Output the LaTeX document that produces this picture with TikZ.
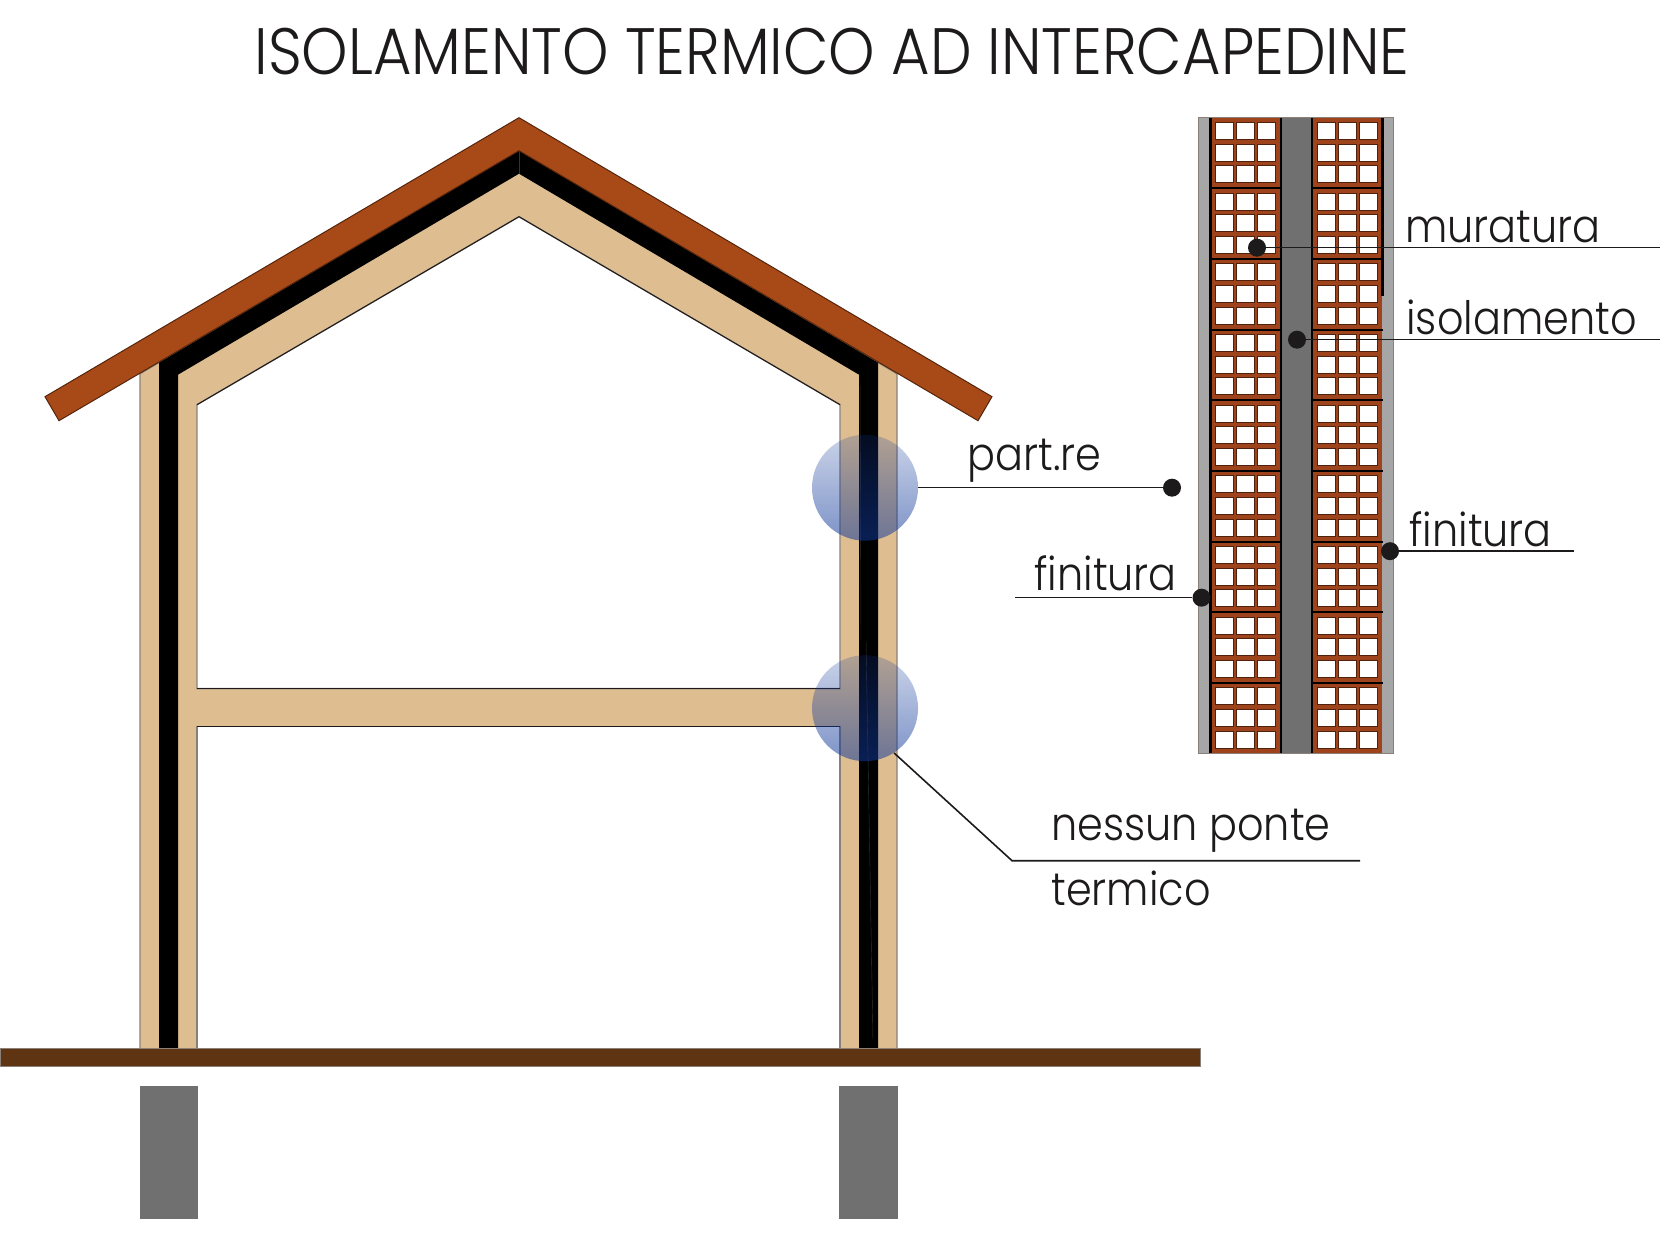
\documentclass[tikz,border=0pt]{standalone}
\usepackage{fontspec}
\setmainfont{Poppins}[UprightFont=* Light,FakeStretch=0.9]
\usetikzlibrary{calc,positioning,fadings}
\definecolor{roofred}{HTML}{A84A18}
\definecolor{brickred}{HTML}{9E431B}
\definecolor{beige}{HTML}{DEBE91}
\definecolor{earth}{HTML}{5E3412}
\definecolor{concrete}{HTML}{707070}
\definecolor{plaster}{HTML}{A6A6A6}
\definecolor{edge}{HTML}{8A8078}
\definecolor{ink}{HTML}{1C1A1A}
\definecolor{lensblue}{HTML}{123A9A}
\tikzfading[name=lensfade, top color=transparent!78, bottom color=transparent!45]
\tikzset{
    caption/.style = {anchor=base west, inner sep=0pt, text=ink, font=\fontsize{23pt}{26pt}\selectfont},
    lens/.style = {circle, minimum size=53pt, inner sep=0pt, fill=lensblue, path fading=lensfade},
    blob/.style = {circle, fill=ink, minimum size=9pt, inner sep=0pt},
    leader/.style = {draw=ink, line width=0.8pt},
    hole/.style = {fill=white, draw=black!50!brickred, line width=0.2pt},
    streak/.style = {draw=black!80!white, line width=0.2pt},
}

\begin{document}
\begin{tikzpicture}[x=0.5pt, y=-0.5pt]
    \useasboundingbox (0,-0.7) rectangle (1660,1233.3);

    \node [anchor=base, inner sep=0pt, text=ink, font=\fontsize{32.8pt}{36pt}\selectfont] (title) at (832,74) {ISOLAMENTO TERMICO AD INTERCAPEDINE};

    % house
    \draw [fill=beige, draw=edge, line width=0.7pt] (140,1048) -- (140,373) -- (519,150) -- (897,373) -- (897,1048) -- cycle;
    \draw [fill=white, draw=edge, line width=0.7pt] (197,688) -- (197,404) -- (519,216) -- (840,404) -- (840,688) -- cycle;
    \draw [fill=white, draw=edge, line width=0.7pt] (197,1048) -- (197,726) -- (840,726) -- (840,1048);
    \draw [ink, line width=0.5pt] (197,404) -- (519,216) -- (840,404);
    \draw [ink, line width=0.6pt] (197,688) -- (840,688);
    \draw [ink, line width=0.6pt] (197,726) -- (840,726);
    \fill [black] (159,1048) -- (159,362) -- (519,150) -- (878,362) -- (878,1048) -- (859,1048) -- (859,374) -- (519,173) -- (178,374) -- (178,1048) -- cycle;
    \draw [streak] (519,150) -- (519,173);
    \draw [streak] (860,374) -- (861,640);
    \draw [streak] (866,640) -- (873,1040);
    \draw [fill=roofred, draw=black!50!roofred, line width=0.5pt] (519,117) -- (992,396) -- (978,420) -- (519,150) -- (59,420) -- (45,396) -- cycle;
    \draw [fill=earth, draw=edge, line width=0.5pt] (0,1048) rectangle (1200,1066);
    \fill [concrete] (140,1085) rectangle (198,1218);
    \fill [concrete] (839,1085) rectangle (898,1218);

    \node [lens] (partlens) at (865,487) {};
    \node [lens] (pontelens) at (865,707.5) {};

    % wall section
    \fill [plaster] (1198,117) rectangle (1393,753);
    \fill [concrete] (1282,117) rectangle (1312,753);
    \foreach \colx in {0,101.7} {
        \fill [brickred] ({1211+\colx},117) rectangle ({1280+\colx},753);
        \foreach \row in {0,...,8} {
            \foreach \i in {0,1,2} {
                \foreach \j in {0,1,2} {
                    \path [hole] ({1215.5+\colx+\i*21},{121.5+\row*70.67+\j*21.67}) rectangle +(17.5,17);
                }
            }
            \ifnum\row>0
                \draw [black, line width=1pt] ({1210+\colx},{117+\row*70.67}) -- ({1281+\colx},{117+\row*70.67});
            \fi
        }
    }
    \draw [black, line width=1.2pt] (1210.5,117) -- (1210.5,753);
    \draw [black, line width=1.2pt] (1281,117) -- (1281,753);
    \draw [black, line width=1.2pt] (1312,117) -- (1312,753);
    \draw [black, line width=1.2pt] (1382.5,117) -- (1382.5,295);
    \draw [edge, line width=0.5pt] (1198,117) rectangle (1393,753);

    % labels
    \node [caption] (muratura) at (1405,242) {muratura};
    \node [caption] (isolamento) at (1406,334) {isolamento};
    \node [caption] (partre) at (967,470) {part.re};
    \node [caption] (finleft) at (1034,590) {finitura};
    \node [caption] (finright) at (1409,546) {finitura};
    \node [caption] (nessun) at (1051,840) {nessun ponte};
    \node [caption] (termico) at (1051,905) {termico};

    \node [blob] (murdot) at (1257,247) {};
    \node [blob] (isodot) at (1297,339) {};
    \node [blob] (partdot) at (1172,487) {};
    \node [blob] (finleftdot) at (1201.5,597) {};
    \node [blob] (finrightdot) at (1390,550.5) {};

    \coordinate (murend) at (1660,247);
    \coordinate (isoend) at (1660,339);
    \coordinate (finleftend) at (1015,597);
    \coordinate (finrightend) at (1574,550.5);
    \coordinate (pontebend) at (1012,860);
    \coordinate (ponteend) at (1360,860);

    \draw [leader] (murdot) -- (murend);
    \draw [leader] (isodot) -- (isoend);
    \draw [leader] (partlens) -- (partdot);
    \draw [leader] (finleftdot) -- (finleftend);
    \draw [leader] (finrightdot) -- (finrightend);
    \draw [leader] (pontelens.-57) -- (pontebend) -- (ponteend);
\end{tikzpicture}
\end{document}
